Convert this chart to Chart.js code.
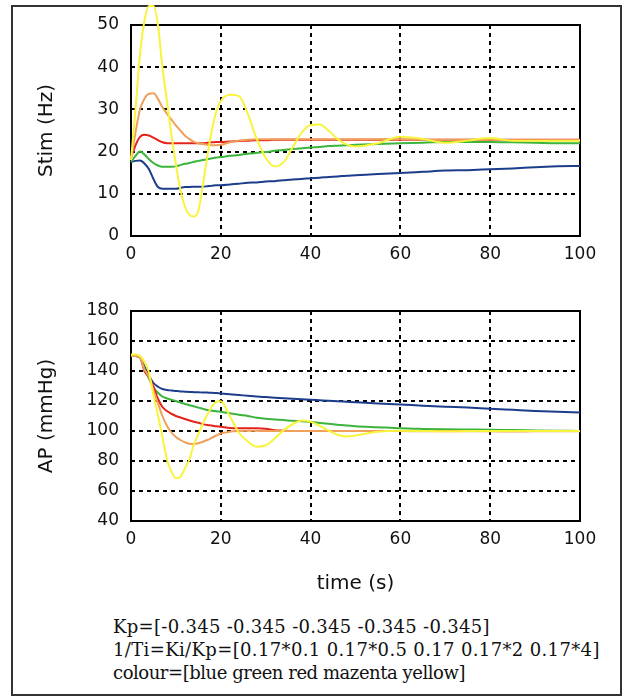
<!DOCTYPE html>
<html>
<head>
<meta charset="utf-8">
<script src="https://cdn.jsdelivr.net/npm/chart.js@4.4.1/dist/chart.umd.min.js"></script>
<style>
  body { margin: 0; background: #fff; width: 624px; height: 699px; position: relative; overflow: hidden; }
  #frame { position: absolute; left: 11px; top: 5px; width: 607px; height: 687px; border: 2px solid #333; }
  canvas { position: absolute; left: 0; }
  #stimChart { top: 0; }
  #apChart { top: 280px; }
  .note { position: absolute; left: 113px; font-family: "DejaVu Serif"; font-size: 18px; color: #111; white-space: pre; }
</style>
</head>
<body>
<div id="frame"></div>
<canvas id="stimChart" width="624" height="280"></canvas>
<canvas id="apChart" width="624" height="322"></canvas>
<div class="note" style="top:616px; letter-spacing:0.3px">Kp=[-0.345 -0.345 -0.345 -0.345 -0.345]</div>
<div class="note" style="top:639px; letter-spacing:0.36px">1/Ti=Ki/Kp=[0.17*0.1 0.17*0.5 0.17 0.17*2 0.17*4]</div>
<div class="note" style="top:662px; letter-spacing:-0.45px">colour=[blue green red mazenta yellow]</div>
<script>
// time samples (s)
const times = [0, 1, 2, 3, 4, 5, 6, 7, 8, 9, 10, 11, 12, 13, 14, 15, 16, 17, 18, 19, 20,
  22, 24, 26, 28, 30, 32, 34, 36, 38, 40, 42, 44, 46, 48, 50,
  55, 60, 65, 70, 75, 80, 85, 90, 95, 100];

// ---------- Stim (Hz) ----------
const stimBlue = [17.6, 17.8, 17.9, 17.2, 15.8, 13.5, 11.6, 11.2, 11.2, 11.2, 11.2, 11.4, 11.6, 11.6, 11.7, 11.7, 11.7, 11.8, 11.9, 12.0, 12.0,
  12.2, 12.4, 12.6, 12.7, 12.9, 13.0, 13.2, 13.4, 13.5, 13.7, 13.8, 14.0, 14.1, 14.3, 14.4,
  14.7, 14.9, 15.2, 15.5, 15.6, 15.8, 16.0, 16.3, 16.5, 16.6];
const stimGreen = [17.5, 19.0, 20.0, 19.3, 18.2, 17.3, 16.7, 16.4, 16.4, 16.4, 16.5, 16.8, 17.1, 17.3, 17.6, 17.8, 18.0, 18.2, 18.4, 18.6, 18.7,
  19.0, 19.2, 19.5, 19.7, 19.9, 20.2, 20.4, 20.6, 20.8, 21.0, 21.1, 21.3, 21.4, 21.5, 21.6,
  21.8, 22.0, 22.1, 22.3, 22.3, 22.3, 22.2, 22.1, 22.0, 22.0];
const stimRed = [18.5, 21.5, 23.5, 24.0, 23.8, 23.3, 22.7, 22.2, 22.0, 22.0, 22.0, 22.0, 22.0, 22.0, 22.0, 22.0, 22.0, 22.1, 22.2, 22.3, 22.3,
  22.4, 22.5, 22.6, 22.7, 22.7, 22.8, 22.8, 22.8, 22.8, 22.8, 22.8, 22.8, 22.8, 22.8, 22.8,
  22.8, 22.8, 22.8, 22.8, 22.8, 22.8, 22.8, 22.8, 22.8, 22.8];
const stimMagenta = [18.0, 24.5, 30.0, 32.5, 33.7, 33.8, 32.5, 30.5, 29.0, 27.6, 26.2, 25.0, 23.8, 23.0, 22.3, 22.0, 21.8, 21.6, 21.5, 21.5, 21.6,
  22.2, 22.6, 22.8, 22.9, 22.9, 22.9, 22.9, 22.9, 22.9, 22.9, 22.9, 22.9, 22.9, 22.9, 22.9,
  22.9, 22.9, 22.8, 22.8, 22.8, 22.8, 22.7, 22.7, 22.7, 22.7];
const stimYellow = [18.0, 30.0, 43.0, 51.0, 54.5, 54.5, 50.0, 40.0, 32.0, 24.0, 17.0, 11.0, 7.0, 5.0, 4.6, 6.0, 12.0, 19.0, 25.0, 29.5, 32.0,
  33.5, 33.2, 29.0, 23.0, 18.5, 16.5, 17.5, 21.0, 24.5, 26.3, 26.4, 25.0, 23.0, 21.7, 21.2,
  22.0, 23.5, 23.0, 22.1, 22.6, 23.2, 22.6, 22.6, 22.6, 22.6];

// ---------- AP (mmHg) ----------
const apBlue = [150, 150, 149.5, 143, 137, 132, 129.5, 128, 127.3, 127, 126.7, 126.4, 126.2, 126, 125.9, 125.8, 125.7, 125.6, 125.5, 125.3, 125,
  124.5, 124, 123.5, 123, 122.6, 122.2, 121.9, 121.5, 121.2, 120.8, 120.5, 120.2, 119.8, 119.5, 119.2,
  118.4, 117.7, 116.9, 116.2, 115.6, 114.8, 114.1, 113.4, 112.8, 112.3];
const apGreen = [150, 150, 149.5, 141, 135, 129, 125.5, 123, 121.7, 120.9, 120, 119, 118, 117.2, 116.4, 115.6, 114.8, 114, 113.5, 113.2, 112.8,
  111.8, 110.8, 110, 108.8, 108.2, 107.7, 107.3, 106.8, 106.5, 106, 105.4, 104.8, 104.2, 103.6, 103.2,
  102.5, 101.8, 101.4, 101.1, 101.0, 100.9, 100.6, 100.4, 100.2, 100];
const apRed = [150, 150, 149, 140, 136, 129.6, 121.5, 116, 113.3, 111.5, 110, 109, 108, 107, 106.2, 105.5, 104.6, 104, 103.6, 103.1, 102.8,
  102, 101.8, 101.8, 101.8, 101.5, 100.5, 100.2, 100, 100, 100, 100, 100, 100, 100, 100,
  100, 100, 100, 100, 100, 100, 100, 100, 100, 100];
const apMagenta = [150, 150, 149, 141, 136, 127, 118.5, 110, 103.5, 99, 96, 94, 92.5, 91.5, 91.3, 91.8, 92.8, 94, 95.5, 97, 98.3,
  99.5, 100, 100.2, 100.1, 100, 100, 100, 100, 100, 100, 100, 100, 100, 100, 100,
  100, 100, 99.8, 99.8, 99.8, 99.8, 99.6, 99.8, 99.8, 99.8];
const apYellow = [151, 151, 150, 146, 139, 124, 110.7, 96, 81, 73, 68.5, 69.5, 75, 81, 91, 98, 105, 111, 116, 119.5, 119.8,
  110, 99, 93, 89.5, 90.5, 95, 100.6, 104.5, 107, 106.2, 103.5, 100.2, 97.5, 96.3, 97,
  99.5, 100.2, 100, 99.8, 100, 100, 100, 100, 100, 100];

const colours = ["#1c3c8c", "#3cb43c", "#e4221c", "#f0a05a", "#f8f43c"];

const tickFont = { family: "DejaVu Sans", size: 17 };
const titleFont = { family: "DejaVu Sans", size: 20 };

// solid box around the plot area
const plotFrame = {
  id: "plotFrame",
  beforeDatasetsDraw(chart) {
    const { ctx, chartArea: a } = chart;
    ctx.save();
    ctx.setLineDash([]);
    ctx.strokeStyle = "#000";
    ctx.lineWidth = 2;
    ctx.strokeRect(a.left, a.top, a.right - a.left, a.bottom - a.top);
    ctx.restore();
  }
};

const toPoints = (vals) => vals.map((v, i) => ({ x: times[i], y: v }));

function makeChart(canvasId, seriesList, yMin, yMax, yStep, yTitle, xTitle, padTop, xAxisHeight) {
  const ctx = document.getElementById(canvasId);
  new Chart(ctx, {
    type: "line",
    data: {
      datasets: seriesList.map((vals, i) => ({
        data: toPoints(vals),
        borderColor: colours[i],
        borderWidth: 2,
        pointRadius: 0,
        cubicInterpolationMode: "monotone",
        clip: false,
        order: 5 - i,
      })),
    },
    options: {
      responsive: false,
      animation: false,
      layout: { padding: { left: 28, right: 44, top: padTop, bottom: 0 } },
      plugins: { legend: { display: false }, tooltip: { enabled: false } },
      scales: {
        x: {
          type: "linear",
          min: 0,
          max: 100,
          ticks: { stepSize: 20, color: "#111", font: tickFont, padding: 8, autoSkip: false, maxRotation: 0 },
          grid: { color: "#000", lineWidth: 2, drawTicks: false },
          border: { display: false, dash: [4, 4] },
          title: { display: !!xTitle, text: xTitle, color: "#111", font: titleFont, padding: { top: 0, bottom: 6 } },
          afterFit: (scale) => { scale.height = xAxisHeight; },
        },
        y: {
          min: yMin,
          max: yMax,
          ticks: { stepSize: yStep, color: "#111", font: tickFont, padding: 12 },
          grid: { color: "#000", lineWidth: 2, drawTicks: false },
          border: { display: false, dash: [4, 4] },
          title: { display: true, text: yTitle, color: "#111", font: titleFont, padding: { top: 7, bottom: 0 } },
          afterFit: (scale) => { scale.width = 103; },
        },
      },
    },
    plugins: [plotFrame],
  });
}

makeChart("stimChart", [stimBlue, stimGreen, stimRed, stimMagenta, stimYellow], 0, 50, 10, "Stim (Hz)", "", 25, 44);
makeChart("apChart", [apBlue, apGreen, apRed, apMagenta, apYellow], 40, 180, 20, "AP (mmHg)", "time (s)", 31, 81);
</script>
</body>
</html>
